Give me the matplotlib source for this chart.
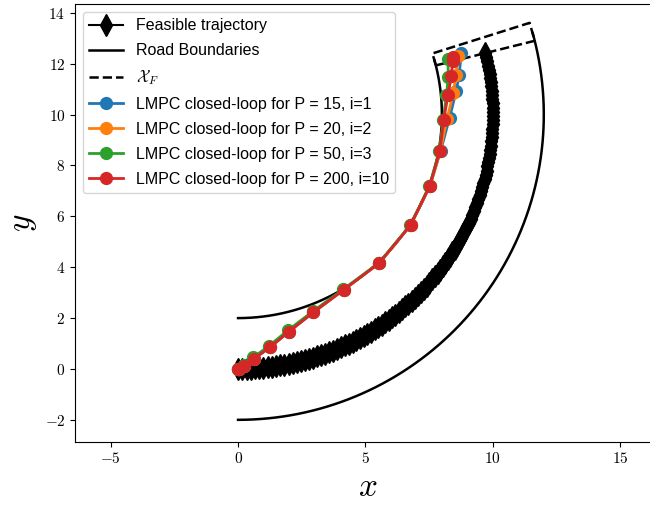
import numpy as np
import matplotlib
matplotlib.use("Agg")
import matplotlib.pyplot as plt
from matplotlib.ticker import FuncFormatter

plt.rcParams['mathtext.fontset'] = 'cm'
plt.rcParams['font.family'] = ['Liberation Sans', 'DejaVu Sans']

# road geometry: curve centred at (0, 10)
center = (0.0, 10.0)
r_inner, r_mid, r_outer = 8.0, 10.0, 12.0
ang_start, ang_road_end = -90.0, 15.5      # degrees
ang_term_lo, ang_term_hi = 14.0, 17.5      # terminal set sector
n_feasible = 110

# LMPC closed-loop trajectories
x_p15 = [0, 0.05, 0.25, 0.62, 1.25, 2.0, 2.96, 4.14, 5.54, 6.77, 7.53, 7.95, 8.3, 8.56, 8.68, 8.76]
y_p15 = [0, -0.02, 0.13, 0.40, 0.85, 1.47, 2.23, 3.11, 4.16, 5.65, 7.19, 8.57, 9.87, 10.92, 11.57, 12.43]

x_p20 = [0, 0.05, 0.25, 0.62, 1.25, 2.0, 2.96, 4.14, 5.54, 6.77, 7.53, 7.94, 8.2, 8.45, 8.55, 8.63]
y_p20 = [0, -0.02, 0.13, 0.41, 0.86, 1.48, 2.23, 3.11, 4.16, 5.65, 7.19, 8.57, 9.83, 10.85, 11.55, 12.30]

x_p50 = [0, 0.04, 0.23, 0.60, 1.22, 1.97, 2.94, 4.12, 5.53, 6.76, 7.51, 7.90, 8.05, 8.18, 8.25, 8.24]
y_p50 = [0, 0.0, 0.17, 0.46, 0.91, 1.53, 2.27, 3.13, 4.17, 5.66, 7.20, 8.58, 9.78, 10.78, 11.47, 12.17]

x_p200 = [0, 0.05, 0.25, 0.62, 1.25, 2.0, 2.96, 4.14, 5.54, 6.77, 7.52, 7.92, 8.07, 8.24, 8.37, 8.42, 8.44]
y_p200 = [0, -0.02, 0.13, 0.40, 0.85, 1.47, 2.23, 3.11, 4.16, 5.65, 7.19, 8.57, 9.78, 10.77, 11.51, 12.10, 12.25]


def arc(r, a0, a1, n=300):
    t = np.radians(np.linspace(a0, a1, n))
    return center[0] + r*np.cos(t), center[1] + r*np.sin(t)


fig = plt.figure(figsize=(6.5, 5.08), dpi=100)
ax = fig.add_axes([75/650, 66.3/508, 586/650, 437.7/508])

# feasible trajectory along the centre line
xf, yf = arc(r_mid, ang_start, ang_term_lo, n_feasible)
ax.plot(xf, yf, 'k-d', markersize=11, lw=1.5, label='Feasible trajectory')

# road boundaries
xi, yi = arc(r_inner, ang_start, ang_road_end)
xo, yo = arc(r_outer, ang_start, ang_road_end)
ax.plot(xi, yi, 'k-', lw=1.8, label='Road Boundaries')
ax.plot(xo, yo, 'k-', lw=1.8)

# terminal set
t_lo, t_hi = np.radians(ang_term_lo), np.radians(ang_term_hi)
xs = [r_inner*np.cos(t_lo), r_outer*np.cos(t_lo), r_outer*np.cos(t_hi), r_inner*np.cos(t_hi), r_inner*np.cos(t_lo)]
ys = [center[1] + r_inner*np.sin(t_lo), center[1] + r_outer*np.sin(t_lo), center[1] + r_outer*np.sin(t_hi),
      center[1] + r_inner*np.sin(t_hi), center[1] + r_inner*np.sin(t_lo)]
ax.plot(xs, ys, 'k--', lw=1.8, label=r'$\mathcal{X}_F$')

ax.plot(x_p15, y_p15, '-o', color='tab:blue', lw=2, markersize=8.5, label='LMPC closed-loop for P = 15, i=1')
ax.plot(x_p20, y_p20, '-o', color='tab:orange', lw=2, markersize=8.5, label='LMPC closed-loop for P = 20, i=2')
ax.plot(x_p50, y_p50, '-o', color='tab:green', lw=2, markersize=8.5, label='LMPC closed-loop for P = 50, i=3')
ax.plot(x_p200, y_p200, '-o', color='tab:red', lw=2, markersize=8.5, label='LMPC closed-loop for P = 200, i=10')

ax.set_xlim(-6.4, 16.6)
ax.set_ylim(-2.86, 14.35)
ax.set_xticks([-5, 0, 5, 10, 15])
ax.set_yticks([-2, 0, 2, 4, 6, 8, 10, 12, 14])
fmt = FuncFormatter(lambda v, p: r'$%g$' % v)
ax.xaxis.set_major_formatter(fmt)
ax.yaxis.set_major_formatter(fmt)
ax.tick_params(labelsize=11)

ax.set_xlabel(r'$x$', fontsize=24)
ax.set_ylabel(r'$y$', fontsize=24)

ax.legend(loc='upper left', fontsize=11.5, handlelength=2.1, labelspacing=0.62)

plt.savefig('out.png', dpi=100)
